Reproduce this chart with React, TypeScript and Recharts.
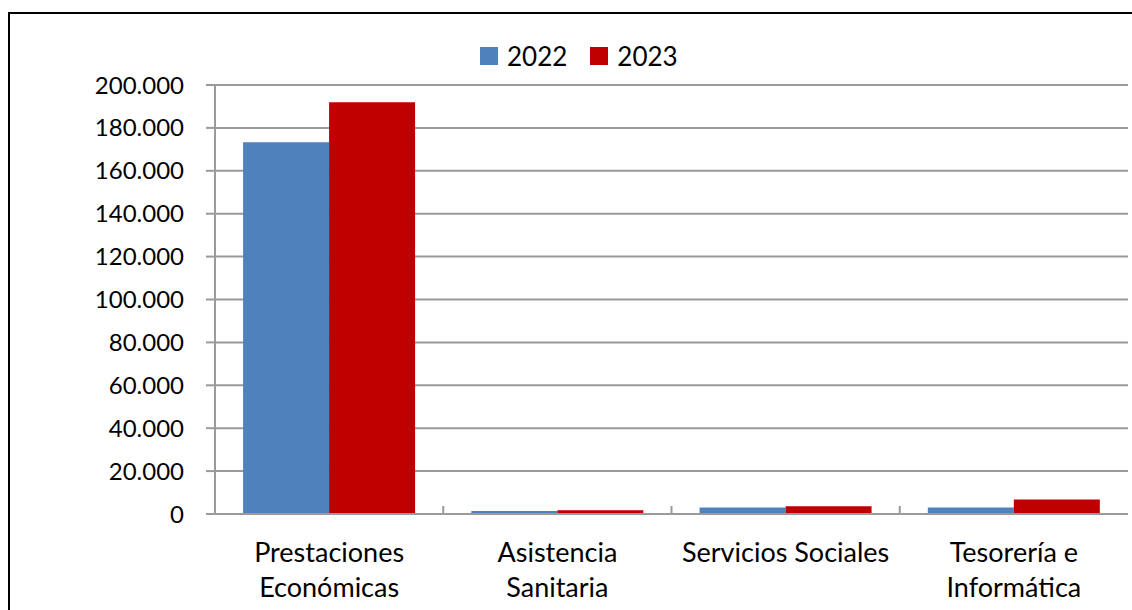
import React from 'react';
import { BarChart, Bar, XAxis, YAxis, CartesianGrid } from 'recharts';

const categories = [
    'Prestaciones\nEconómicas',
    'Asistencia\nSanitaria',
    'Servicios Sociales',
    'Tesorería e\nInformática',
];
const values2022 = [173300, 1400, 3000, 3000];
const values2023 = [191900, 1800, 3600, 6800];
const yTicks = [0, 20000, 40000, 60000, 80000, 100000, 120000, 140000, 160000, 180000, 200000];

const series = [
    { key: 'y2022', name: '2022', color: '#4F81BD' },
    { key: 'y2023', name: '2023', color: '#C00000' },
];

const W = 1132;
const H = 610;
const PLOT_LEFT = 215;
const PLOT_TOP = 85;
const PLOT_RIGHT = 1128;
const PLOT_BOTTOM = 514;
const BAND = (PLOT_RIGHT - PLOT_LEFT) / categories.length;
const GRID = '#9a9a9a';
const FONT = 'Lato, "Open Sans", sans-serif';

const chartData = categories.map((name, i) => ({
    name,
    y2022: values2022[i],
    y2023: values2023[i],
}));

// 200000 -> "200.000"
const fmt = (v: number) => String(v).replace(/\B(?=(\d{3})+(?!\d))/g, '.');

// eslint-disable-next-line @typescript-eslint/no-explicit-any
const CategoryTick = (props: any) => {
    const { x, y, payload, index } = props;
    const lines = String(payload.value).split('\n');
    const bx = x - BAND / 2;
    return (
        <g>
            {index > 0 && (
                <line x1={bx} x2={bx} y1={y} y2={y - 8} stroke={GRID} strokeWidth={2} />
            )}
            <text x={x} y={y} textAnchor="middle" fill="#000" fontSize={27} fontFamily={FONT}>
                {lines.map((l, i) => (
                    <tspan key={i} x={x} y={y + 48 + i * 35}>{l}</tspan>
                ))}
            </text>
        </g>
    );
};

const App = () => {
    return (
        <div style={{ position: 'absolute', left: 0, top: 0, width: W, height: H, background: '#fff', overflow: 'hidden' }}>
            <div
                style={{
                    position: 'absolute', left: 8, top: 12, width: 1200, height: 700,
                    border: '2px solid #000', boxSizing: 'border-box',
                }}
            />
            <div style={{ position: 'absolute', left: 0, top: 0 }}>
                <BarChart
                    width={W}
                    height={H}
                    data={chartData}
                    margin={{ top: PLOT_TOP, right: W - PLOT_RIGHT, left: 0, bottom: 0 }}
                    barCategoryGap="12.3%"
                    barGap={0}
                    style={{ fontFamily: FONT }}
                >
                    <CartesianGrid vertical={false} stroke={GRID} strokeWidth={2} />
                    <XAxis
                        dataKey="name"
                        height={H - PLOT_BOTTOM}
                        tickLine={false}
                        tickSize={0}
                        tickMargin={0}
                        axisLine={{ stroke: GRID, strokeWidth: 2 }}
                        tick={<CategoryTick />}
                        interval={0}
                    />
                    <YAxis
                        width={PLOT_LEFT}
                        domain={[0, 200000]}
                        ticks={yTicks}
                        tickFormatter={fmt}
                        tickSize={9}
                        tickMargin={22}
                        axisLine={{ stroke: GRID, strokeWidth: 2 }}
                        tickLine={{ stroke: GRID, strokeWidth: 2 }}
                        tick={{ fontSize: 24, fill: '#000', fontFamily: FONT }}
                        interval={0}
                    />
                    <YAxis
                        yAxisId="r"
                        orientation="right"
                        width={0}
                        tick={false}
                        tickLine={false}
                        axisLine={{ stroke: GRID, strokeWidth: 2 }}
                    />
                    {series.map(s => (
                        <Bar key={s.key} dataKey={s.key} name={s.name} fill={s.color} isAnimationActive={false} />
                    ))}
                </BarChart>
            </div>
            <div
                style={{
                    position: 'absolute', left: 480, top: 43, display: 'flex', alignItems: 'center',
                    fontFamily: FONT, fontSize: 26, lineHeight: '26px', color: '#000',
                }}
            >
                {series.map((s, i) => (
                    <div key={s.key} style={{ display: 'flex', alignItems: 'center', marginLeft: i === 0 ? 0 : 23 }}>
                        <span style={{ width: 18, height: 18, background: s.color, display: 'inline-block', marginRight: 9 }} />
                        <span>{s.name}</span>
                    </div>
                ))}
            </div>
        </div>
    );
};

export default App;
